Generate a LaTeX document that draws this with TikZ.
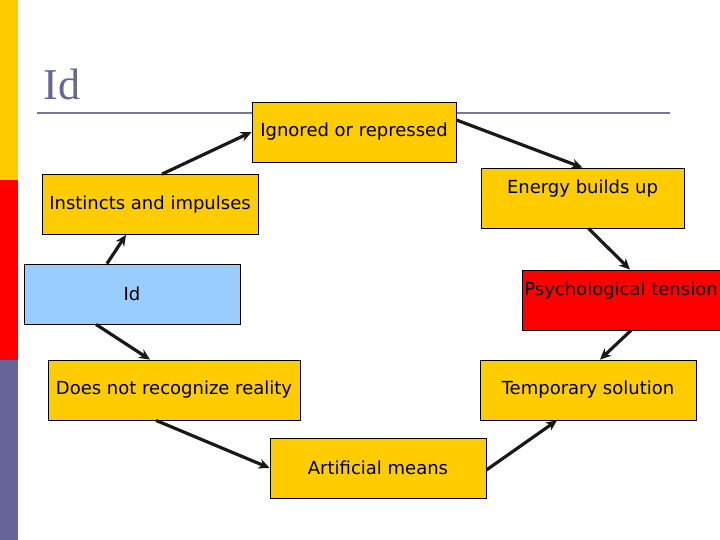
\documentclass[tikz,border=0pt]{standalone}
\usepackage{fontspec}
\setmainfont{DejaVu Sans}
\newfontfamily\titlefont{Liberation Serif}
\usetikzlibrary{arrows.meta}
\definecolor{boxyellow}{HTML}{FFCC00}
\definecolor{boxblue}{HTML}{99CCFF}
\definecolor{boxred}{HTML}{FF0000}
\definecolor{slate}{HTML}{666699}
\definecolor{rulegray}{HTML}{77779A}

\begin{document}
\begin{tikzpicture}[x=1pt,y=-1pt,
		box/.style={draw=black,line width=0.8pt,fill=boxyellow,minimum width=216pt,minimum height=60pt,inner sep=0pt,font=\fontsize{18}{21}\selectfont},
		raised/.style={text depth=23pt},
		link/.style={-{Stealth[length=11pt,width=10pt]},line width=3.2pt,draw=black!90}]
		\useasboundingbox (0,0) rectangle (720,540);
		% side strip
		\fill[boxyellow] (0,0) rectangle (18,180);
		\fill[boxred] (0,180) rectangle (18,360);
		\fill[slate] (0,360) rectangle (18,540);
		% title
		\node[anchor=west,text=slate,font=\titlefont\fontsize{44}{48}\selectfont] (title) at (40,84) {Id};
		\draw[rulegray,line width=2pt] (37,113) -- (670,113);
		% boxes
		\node[box,minimum width=204pt] (ign) at (354,132) {Ignored or repressed};
		\node[box,minimum width=203pt,raised] (energy) at (582.5,198) {Energy builds up};
		\node[box] (inst) at (150,204.5) {Instincts and impulses};
		\node[box,fill=boxblue] (id) at (132,294) {Id};
		\node[box,fill=boxred,minimum width=198pt,raised] (psych) at (621,300) {Psychological tension};
		\node[box,minimum width=252pt] (real) at (174,390) {Does not recognize reality};
		\node[box] (temp) at (588,390) {Temporary solution};
		\node[box] (art) at (378,468) {Artificial means};
		% cycle
		\draw[link] ([xshift=12pt]inst.north) -- (ign.west);
		\draw[link] ([yshift=12pt]ign.east) -- (energy.north);
		\draw[link] ([xshift=6pt]energy.south) -- ([xshift=9pt]psych.north);
		\draw[link] ([xshift=10pt]psych.south) -- ([xshift=12pt]temp.north);
		\draw[link] ([yshift=-2pt]art.east) -- ([xshift=-31pt]temp.south);
		\draw[link] ([xshift=-18pt]real.south) -- (art.west);
		\draw[link] ([xshift=-36pt]id.south) -- ([xshift=-24pt]real.north);
		\draw[link] ([xshift=-25pt]id.north) -- ([xshift=-24pt]inst.south);
	\end{tikzpicture}
\end{document}
